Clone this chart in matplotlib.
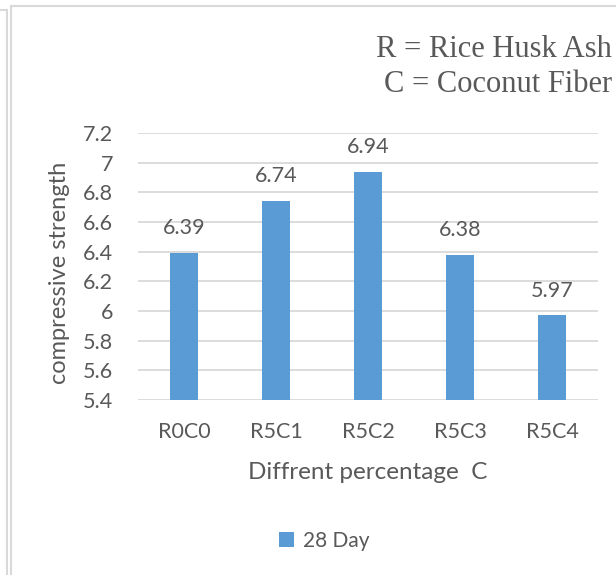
import matplotlib
matplotlib.use('Agg')
import matplotlib.pyplot as plt
from matplotlib.lines import Line2D
from matplotlib.patches import Patch

# dane z wykresu
categories = ['R0C0', 'R5C1', 'R5C2', 'R5C3', 'R5C4']
strength_28 = [6.39, 6.74, 6.94, 6.38, 5.97]
y_ticks = [5.4, 5.6, 5.8, 6.0, 6.2, 6.4, 6.6, 6.8, 7.0, 7.2]
y_tick_labels = ['5.4', '5.6', '5.8', '6', '6.2', '6.4', '6.6', '6.8', '7', '7.2']

TEXT = '#595959'
BAR = '#5B9BD5'
GRID = '#D9D9D9'
FONT = 'Lato'

fig = plt.figure(figsize=(6.16, 5.75), dpi=100)
ax = fig.add_axes([138 / 616, 1 - 400 / 575, 460 / 616, 267 / 575])

x = range(len(categories))
bars = ax.bar(x, strength_28, width=0.31, color=BAR, zorder=3, label='28 Day')
for b, v in zip(bars, strength_28):
    ax.text(b.get_x() + b.get_width() / 2, v + 0.1, f'{v:.2f}', ha='center', va='bottom',
            fontsize=15.5, color=TEXT, family=FONT)

ax.set_xlim(-0.5, len(categories) - 0.5)
ax.set_ylim(5.4, 7.2)
ax.set_yticks(y_ticks)
ax.set_yticklabels(y_tick_labels)
ax.set_xticks(list(x))
ax.set_xticklabels(categories)
ax.tick_params(axis='both', length=0, labelsize=15.5, colors=TEXT)
ax.tick_params(axis='x', pad=16)
ax.tick_params(axis='y', pad=18)
for lbl in ax.get_xticklabels() + ax.get_yticklabels():
    lbl.set_family(FONT)
ax.grid(axis='y', color=GRID, linewidth=1.3, zorder=0)
for s in ax.spines.values():
    s.set_visible(False)

ax.set_xlabel('Diffrent percentage  C', fontsize=17.5, color=TEXT, family=FONT, labelpad=14)
ax.set_ylabel('compressive strength', fontsize=17, color=TEXT, family=FONT)
ax.yaxis.set_label_coords(-0.148, 0.475)

# opis skrótów
fig.text(612 / 616, 1 - 57 / 575, 'R = Rice Husk Ash', ha='right', va='baseline',
         fontsize=22, color=TEXT, family='Liberation Serif')
fig.text(612 / 616, 1 - 92 / 575, 'C = Coconut Fiber', ha='right', va='baseline',
         fontsize=22, color=TEXT, family='Liberation Serif')

handle = Patch(facecolor=BAR, edgecolor='none')
leg = fig.legend([handle], ['28 Day'], loc='center', bbox_to_anchor=(324 / 616, 1 - 541 / 575),
                 frameon=False, fontsize=15, handlelength=0.75, handleheight=0.75, handletextpad=0.4)
for t in leg.get_texts():
    t.set_color(TEXT)
    t.set_family(FONT)

# ramki obramowania
bc = '#D9D9D9'
fig.add_artist(Line2D([6.5 / 616, 6.5 / 616], [0, 1 - 10 / 575], color=bc, lw=1.5, transform=fig.transFigure))
fig.add_artist(Line2D([0, 6.5 / 616], [1 - 10 / 575, 1 - 10 / 575], color=bc, lw=1.5, transform=fig.transFigure))
fig.add_artist(Line2D([11 / 616, 11 / 616], [0, 1 - 6 / 575], color=bc, lw=1.5, transform=fig.transFigure))
fig.add_artist(Line2D([11 / 616, 1], [1 - 6 / 575, 1 - 6 / 575], color=bc, lw=1.5, transform=fig.transFigure))

fig.savefig('out.png', dpi=100)
